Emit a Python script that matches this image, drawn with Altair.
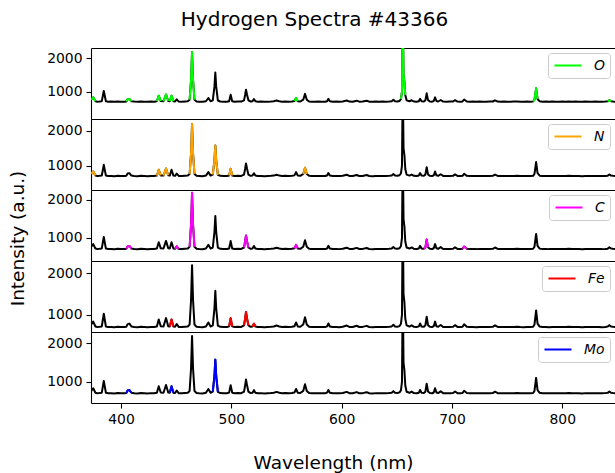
import altair as alt
import pandas as pd

# ---- spectrum (wavelength nm, intensity a.u.) ----
wavelength = [
    373.0, 374.8, 376.8, 378.5, 380.5, 382.6, 384.4, 386.3, 388.5, 391.0,
    394.0, 397.0, 400.0, 403.0, 404.8, 406.0, 407.6, 409.4, 412.0, 415.0,
    418.0, 421.0, 424.0, 427.0, 430.0, 432.5, 434.2, 436.0, 438.5, 440.8,
    442.8, 444.2, 445.8, 447.5, 449.0, 450.5, 452.3, 455.0, 458.0, 460.5,
    462.2, 463.5, 464.4, 465.3, 466.6, 468.5, 471.0, 474.0, 477.0, 479.2,
    481.2, 483.2, 484.7, 485.5, 486.3, 487.8, 490.0, 493.0, 496.0, 498.0,
    499.4, 500.8, 503.0, 506.0, 509.0, 511.5, 512.5, 513.3, 514.3, 515.5,
    517.5, 519.2, 520.5, 521.8, 524.0, 527.0, 530.0, 533.0, 536.0, 538.5,
    541.0, 543.5, 546.0, 549.0, 552.0, 555.0, 557.2, 558.7, 560.2, 562.5,
    565.2, 566.8, 568.4, 570.5, 573.0, 576.0, 579.0, 582.0, 585.0, 586.8,
    588.0, 589.3, 592.0, 595.0, 598.0, 601.0, 604.6, 607.0, 610.0, 613.6,
    616.0, 619.0, 622.7, 625.0, 628.0, 631.0, 634.0, 637.0, 640.0, 643.0,
    645.4, 646.9, 648.4, 650.5, 652.5, 653.8, 654.7, 655.4, 656.1, 656.9,
    657.7, 658.9, 661.5, 663.5, 665.5, 668.0, 670.0, 671.1, 672.4, 674.5,
    675.9, 677.1, 678.3, 680.0, 682.0, 683.5, 684.7, 685.9, 687.5, 689.8,
    692.0, 695.0, 698.0, 701.0, 702.8, 705.0, 708.0, 709.6, 711.0, 713.5,
    716.0, 719.0, 722.0, 725.0, 728.0, 731.0, 734.0, 737.0, 739.0, 741.5,
    744.0, 747.0, 750.0, 753.0, 756.0, 759.0, 762.0, 765.0, 768.0, 771.0,
    773.6, 774.8, 776.3, 777.6, 779.5, 782.0, 785.0, 788.0, 791.0, 794.0,
    797.0, 800.0, 803.0, 806.0, 809.0, 812.0, 815.0, 818.0, 821.0, 824.0,
    827.0, 830.0, 833.0, 836.0, 839.0, 841.2, 842.7, 844.2, 846.0, 848.0,
]
intensity = [
    760, 830, 712, 700, 705, 715, 1020, 712, 698, 702,
    695, 705, 698, 700, 708, 770, 782, 712, 702, 696,
    705, 700, 694, 703, 700, 712, 880, 718, 712, 915,
    720, 712, 880, 712, 705, 770, 702, 698, 705, 712,
    760, 1350, 2190, 1350, 760, 705, 700, 696, 712, 810,
    712, 740, 1150, 1575, 1150, 735, 705, 700, 698, 715,
    910, 715, 700, 705, 702, 740, 900, 1060, 900, 740,
    705, 712, 780, 712, 700, 703, 696, 700, 705, 712,
    735, 712, 700, 706, 698, 705, 718, 810, 715, 705,
    760, 935, 760, 705, 700, 698, 703, 700, 698, 715,
    785, 712, 700, 703, 697, 705, 735, 702, 700, 730,
    700, 703, 728, 700, 696, 703, 698, 702, 700, 705,
    715, 755, 712, 706, 722, 780, 1000, 3500, 1500, 1300,
    900, 740, 712, 742, 705, 700, 715, 785, 712, 705,
    740, 950, 745, 705, 700, 720, 830, 720, 705, 750,
    702, 698, 703, 705, 745, 703, 700, 706, 765, 705,
    698, 702, 697, 703, 700, 698, 702, 705, 740, 702,
    698, 703, 700, 698, 702, 705, 700, 697, 702, 700,
    705, 760, 1100, 780, 710, 700, 703, 697, 702, 700,
    698, 703, 700, 705, 698, 702, 700, 696, 703, 700,
    698, 702, 700, 697, 703, 710, 745, 712, 705, 700,
]

# ---- element emission lines highlighted in each panel (nm) ----
elements = ["O", "N", "C", "Fe", "Mo"]
colors = ["#00ff00", "orange", "magenta", "red", "blue"]
lines_O = [374.8, 406.8, 434.2, 440.8, 445.8, 464.4, 558.7, 655.4, 776.3, 842.7]
lines_N = [374.8, 434.2, 440.8, 464.4, 485.5, 499.4, 566.8]
lines_C = [406.8, 450.5, 464.4, 513.3, 558.7, 677.1, 711.0]
lines_Fe = [445.8, 499.4, 513.3, 520.5]
lines_Mo = [406.8, 445.8, 485.5]
element_lines = [lines_O, lines_N, lines_C, lines_Fe, lines_Mo]

# y-axis ranges of the five panels
y_low = [180, 300, 382, 580, 446]
y_high = [2310, 2330, 2265, 2290, 2294]
x_range = [372.8, 847.8]

HALF = 2.8
FONT = "DejaVu Sans"
PANEL_W = 524
PANEL_H = 71

spec = pd.DataFrame({"wl": wavelength, "intensity": intensity})
xscale = alt.Scale(domain=x_range, nice=False, zero=False)

panels = []
for i, (el, col, centers) in enumerate(zip(elements, colors, element_lines)):
    parts = []
    for k, c in enumerate(centers):
        sub = spec[(spec.wl >= c - HALF) & (spec.wl <= c + HALF)].copy()
        sub["seg"] = k
        sub["element"] = el
        parts.append(sub)
    seg = pd.concat(parts, ignore_index=True)

    yaxis_kw = dict(
        values=[1000, 2000], format="d", grid=False, domain=True,
        domainColor="black", domainWidth=1.1, ticks=True, tickSize=5,
        tickColor="black", tickWidth=1.1, labelFont=FONT, labelFontSize=13.9,
        labelColor="black", labelPadding=4,
    )
    if i == 2:
        yaxis = alt.Axis(title="Intensity (a.u.)", titleFont=FONT,
                         titleFontSize=18.5, titleFontWeight="normal",
                         titleColor="black", titleX=-74, titleY=48,
                         titleAngle=270, titleBaseline="middle",
                         titleAlign="center", **yaxis_kw)
    else:
        yaxis = alt.Axis(title=None, **yaxis_kw)
    yscale = alt.Scale(domain=[y_low[i], y_high[i]], nice=False, zero=False)

    top_axis = alt.Axis(orient="top", labels=False, ticks=False, domain=True,
                        domainColor="black", domainWidth=1.1, title=None,
                        grid=False)
    base = alt.Chart(spec).mark_line(color="black", strokeWidth=2,
                                     clip=True, strokeJoin="round").encode(
        x=alt.X("wl:Q", scale=xscale, axis=top_axis),
        y=alt.Y("intensity:Q", scale=yscale, axis=yaxis),
    )

    if i == len(elements) - 1:
        bottom_axis = alt.Axis(
            orient="bottom", values=[400, 500, 600, 700, 800], format="d",
            grid=False, domain=True, domainColor="black", domainWidth=1.1,
            ticks=True, tickSize=5, tickColor="black", tickWidth=1.1,
            labelFont=FONT, labelFontSize=13.9, labelColor="black",
            labelPadding=4, title="Wavelength (nm)", titleFont=FONT,
            titleFontSize=18.5, titleFontWeight="normal", titleColor="black",
            titleX=242, titleY=59, titleBaseline="middle", titleAlign="center",
        )
    else:
        bottom_axis = None

    colored = alt.Chart(seg).mark_line(strokeWidth=2, clip=True,
                                       strokeJoin="round").encode(
        x=alt.X("wl:Q", scale=xscale, axis=bottom_axis),
        y=alt.Y("intensity:Q"),
        color=alt.Color(
            "element:N",
            scale=alt.Scale(domain=[el], range=[col]),
            legend=alt.Legend(
                orient="top-right", offset=5, title=None,
                symbolType="stroke", symbolStrokeWidth=2, symbolSize=730,
                clipHeight=15, labelFont=FONT, labelFontSize=13.9,
                labelFontStyle="italic", labelColor="black", labelOffset=11,
                fillColor="white", strokeColor="#cccccc", cornerRadius=3,
                padding=5,
            ),
        ),
        detail="seg:N",
    )

    panel = alt.layer(base, colored).resolve_axis(x="independent").properties(
        width=PANEL_W, height=PANEL_H
    )
    panels.append(panel)

chart = alt.vconcat(*panels, spacing=0, bounds="flush").resolve_scale(
    color="independent", y="independent"
).resolve_legend(color="independent").properties(
    title=alt.TitleParams("Hydrogen Spectra #43366", font=FONT, fontSize=20,
                          fontWeight="normal", color="black", anchor="middle",
                          dx=3, offset=18),
    padding={"left": 7, "top": 10, "right": 0, "bottom": 1},
).configure_view(stroke=None)

chart.save("out.html", embed_options={"renderer": "svg", "actions": False})
